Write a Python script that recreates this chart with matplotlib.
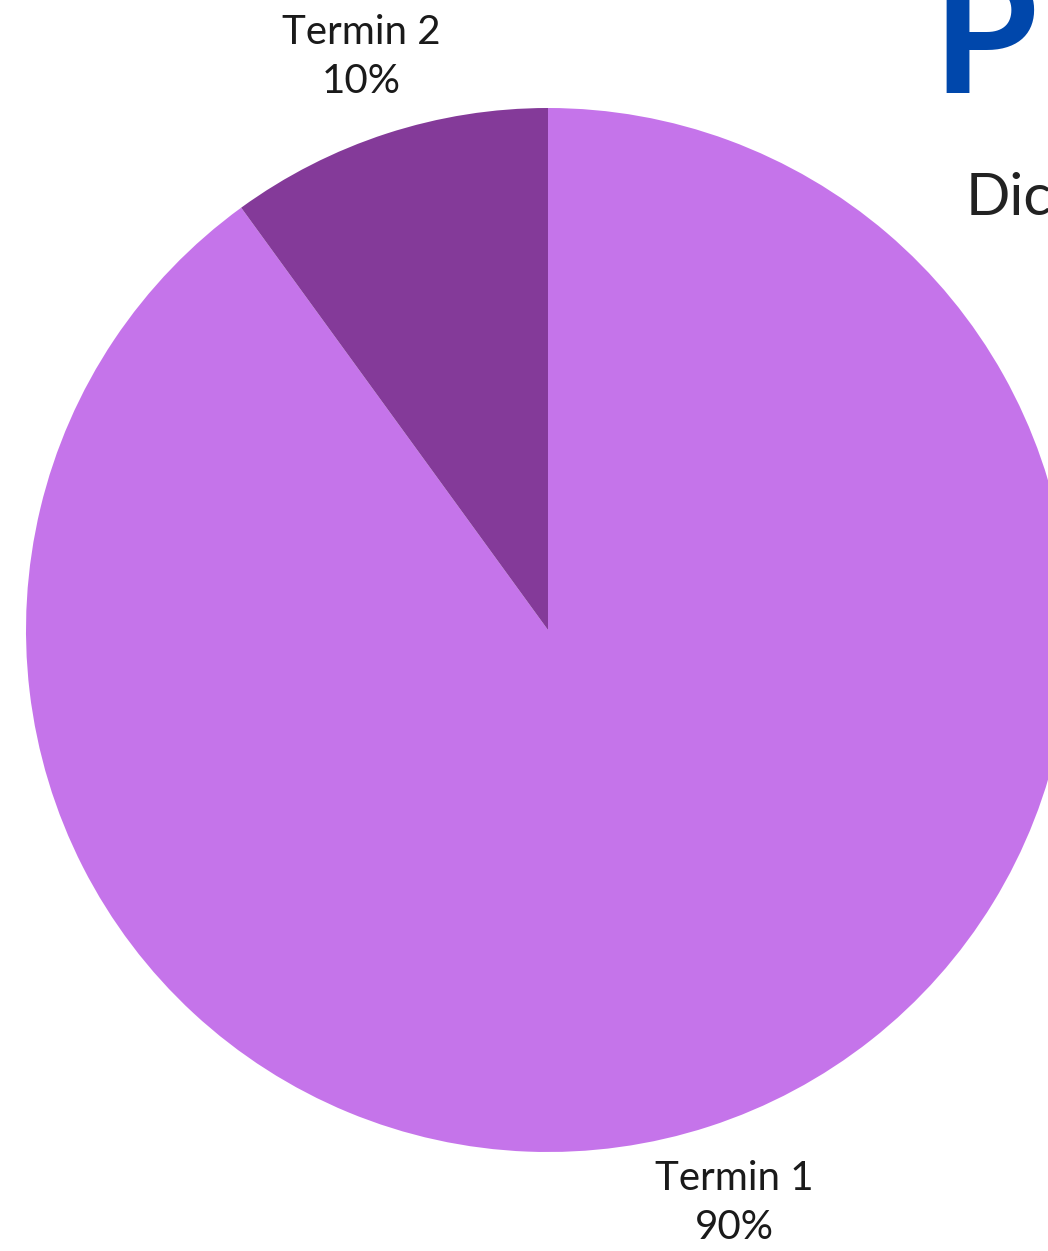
import matplotlib
matplotlib.use("Agg")
import matplotlib.pyplot as plt
import numpy as np

plt.rcParams["font.family"] = ["Lato", "DejaVu Sans"]

# data
labels = ["Termin 1", "Termin 2"]
shares = [90, 10]
colors = ["#C574EA", "#843A99"]

W, H = 1048, 1251
fig = plt.figure(figsize=(W / 100, H / 100), dpi=100)
ax = fig.add_axes([0, 0, 1, 1])

cx, cy, r = 548, H - 630, 522
texts = [f"{name}\n{v}%" for name, v in zip(labels, shares)]
wedges, lbls = ax.pie(shares, labels=texts, colors=colors, startangle=90,
                      counterclock=False, center=(cx, cy), radius=r,
                      labeldistance=1.155, frame=True,
                      textprops=dict(fontsize=29, color="#1a1a1a", linespacing=1.4))
for t in lbls:
    t.set_ha("center")
    t.set_va("center")
ax.set_xlim(0, W)
ax.set_ylim(0, H)
ax.set_aspect("equal")
ax.axis("off")

# title and subtitle, cut off at the right edge as in the source
ax.text(932, H - 93, "P", fontsize=122, fontweight="bold", color="#0047AB",
        ha="left", va="baseline")
ax.text(966, H - 215, "Dic", fontsize=42, color="#222222", ha="left", va="baseline")

fig.savefig("out.png", dpi=100)
